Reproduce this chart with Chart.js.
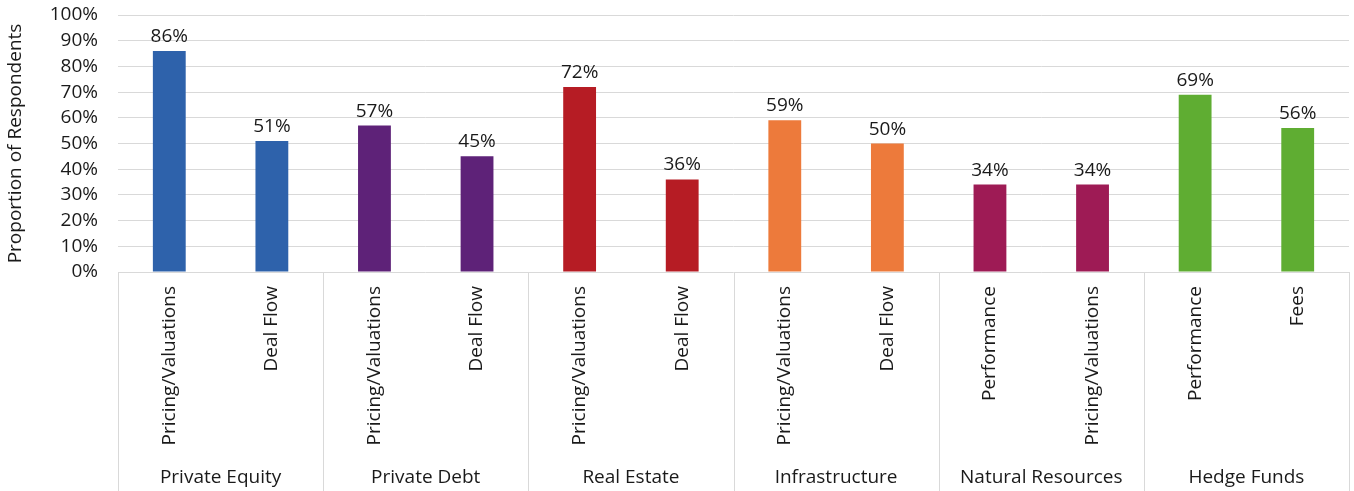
<!DOCTYPE html>
<html>
<head>
<meta charset="utf-8">
<title>Proportion of Respondents</title>
<script src="https://cdn.jsdelivr.net/npm/chart.js@4"></script>
<style>
  html, body { margin: 0; padding: 0; background: #fff; }
  #wrap { width: 1354px; height: 491px; }
</style>
</head>
<body>
<div id="wrap"><canvas id="chart" width="1354" height="491"></canvas></div>
<script>
// asset classes, two sub-categories each
const groups = ['Private Equity', 'Private Debt', 'Real Estate', 'Infrastructure', 'Natural Resources', 'Hedge Funds'];
const issues = [
  'Pricing/Valuations', 'Deal Flow',
  'Pricing/Valuations', 'Deal Flow',
  'Pricing/Valuations', 'Deal Flow',
  'Pricing/Valuations', 'Deal Flow',
  'Performance', 'Pricing/Valuations',
  'Performance', 'Fees'
];
const shares = [86, 51, 57, 45, 72, 36, 59, 50, 34, 34, 69, 56];
const groupColors = ['#2e62ab', '#5e2278', '#b61c24', '#ed7a3b', '#9e1b55', '#5fad32'];
const yTicks = [0, 10, 20, 30, 40, 50, 60, 70, 80, 90, 100];

const FONT = '"Open Sans", "Noto Sans", sans-serif';
const FONT_SIZE = 19;
const TEXT = '#1a1a1a';
const GRID = '#d9d9d9';

const barColors = issues.map((_, i) => groupColors[Math.floor(i / 2)]);

// value labels above bars, group separators and group names under the axis
const decorations = {
  id: 'decorations',
  afterDatasetsDraw(chart) {
    const ctx = chart.ctx;
    const meta = chart.getDatasetMeta(0);
    ctx.save();
    ctx.fillStyle = TEXT;
    ctx.font = FONT_SIZE + 'px ' + FONT;
    ctx.textAlign = 'center';
    ctx.textBaseline = 'alphabetic';
    meta.data.forEach((bar, i) => {
      ctx.fillText(shares[i] + '%', bar.x, bar.y - 9);
    });
    ctx.restore();
  },
  afterDraw(chart) {
    const ctx = chart.ctx;
    const x = chart.scales.x;
    const area = chart.chartArea;
    const step = x.getPixelForValue(1) - x.getPixelForValue(0);
    ctx.save();
    ctx.strokeStyle = GRID;
    ctx.lineWidth = 1;
    for (let g = 0; g <= groups.length; g++) {
      const px = Math.round(x.getPixelForValue(g * 2) - step / 2) + 0.5;
      ctx.beginPath();
      ctx.moveTo(px, area.bottom);
      ctx.lineTo(px, chart.height);
      ctx.stroke();
    }
    ctx.fillStyle = TEXT;
    ctx.font = FONT_SIZE + 'px ' + FONT;
    ctx.textAlign = 'center';
    ctx.textBaseline = 'middle';
    groups.forEach((name, g) => {
      const cx = (x.getPixelForValue(g * 2) + x.getPixelForValue(g * 2 + 1)) / 2;
      ctx.fillText(name, cx, 478);
    });
    ctx.restore();
  }
};

new Chart(document.getElementById('chart'), {
  type: 'bar',
  data: {
    labels: issues,
    datasets: [{
      data: shares,
      backgroundColor: barColors,
      borderWidth: 0,
      barPercentage: 0.64,
      categoryPercentage: 0.5
    }]
  },
  options: {
    responsive: false,
    animation: false,
    layout: { padding: { top: 15, right: 5, left: 0, bottom: 0 } },
    plugins: {
      legend: { display: false },
      tooltip: { enabled: false }
    },
    scales: {
      x: {
        grid: { display: false, drawTicks: false },
        border: { display: false },
        ticks: {
          autoSkip: false,
          minRotation: 90,
          maxRotation: 90,
          padding: 14,
          color: TEXT,
          font: { family: FONT, size: FONT_SIZE }
        },
        afterFit(scale) {
          scale.height = 219;
          scale.paddingLeft = 0;
          scale.paddingRight = 0;
        }
      },
      y: {
        min: 0,
        max: 100,
        afterBuildTicks(scale) { scale.ticks = yTicks.map(v => ({ value: v })); },
        grid: { color: GRID, drawTicks: false },
        border: { display: false },
        ticks: {
          autoSkip: false,
          padding: 20,
          color: TEXT,
          font: { family: FONT, size: FONT_SIZE },
          callback: v => v + '%'
        },
        title: {
          display: true,
          text: 'Proportion of Respondents',
          color: TEXT,
          font: { family: FONT, size: 19 },
          padding: { top: 4, bottom: 4 }
        },
        afterFit(scale) {
          scale.width = 118;
          scale.paddingTop = 0;
          scale.paddingBottom = 0;
        }
      }
    }
  },
  plugins: [decorations]
});
</script>
</body>
</html>
